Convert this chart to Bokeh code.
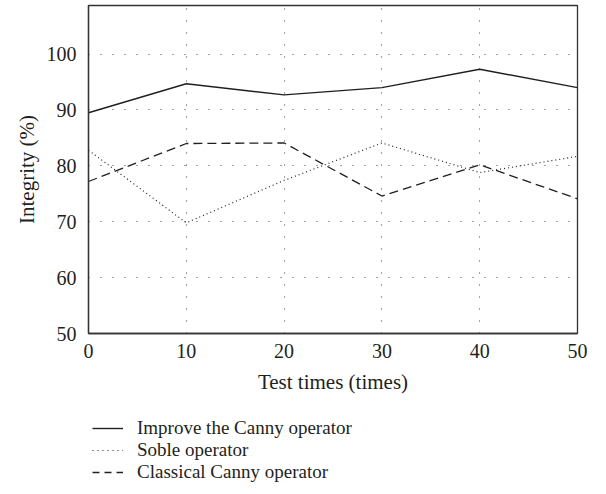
from bokeh.plotting import figure
from bokeh.models import Legend, LegendItem, Range1d, FixedTicker
from bokeh.layouts import column
from bokeh.embed import file_html
from bokeh.resources import INLINE

test_times = [0, 10, 20, 30, 40, 50]
improve_canny = [89.5, 94.7, 92.7, 94.0, 97.3, 94.0]
soble = [82.8, 69.8, 77.4, 84.1, 78.8, 81.7]
classical_canny = [77.2, 84.0, 84.1, 74.6, 80.2, 74.1]
x_ticks = [0, 10, 20, 30, 40, 50]
y_ticks = [50, 60, 70, 80, 90, 100]
series_labels = ["Improve the Canny operator", "Soble operator", "Classical Canny operator"]
series_values = [improve_canny, soble, classical_canny]

FONT = "Liberation Serif"
INK = "#231f20"

p = figure(width=597, height=397, output_backend="svg", toolbar_location=None,
           x_range=Range1d(0, 50), y_range=Range1d(50, 108.7),
           min_border_left=88, min_border_right=20, min_border_top=5,
           min_border_bottom=64)
p.outline_line_color = "#333333"
p.outline_line_width = 1.3
p.background_fill_color = "white"
p.border_fill_color = "white"

for ax in (p.xaxis[0], p.yaxis[0]):
    ax.major_tick_line_color = None
    ax.minor_tick_line_color = None
    ax.axis_line_color = "#333333"
    ax.axis_line_width = 1.3
    ax.major_label_text_font = FONT
    ax.major_label_text_font_size = "20px"
    ax.major_label_text_color = INK
    ax.axis_label_text_font = FONT
    ax.axis_label_text_font_size = "21px"
    ax.axis_label_text_font_style = "normal"
    ax.axis_label_text_color = INK

p.xaxis.ticker = FixedTicker(ticks=x_ticks)
p.yaxis.ticker = FixedTicker(ticks=y_ticks)
p.xaxis.axis_label = "Test times (times)"
p.yaxis.axis_label = "Integrity (%)"
p.xaxis.major_label_standoff = 4
p.yaxis.major_label_standoff = 6
p.xaxis.axis_label_standoff = 9
p.yaxis.axis_label_standoff = 5

for g in (p.xgrid[0], p.ygrid[0]):
    g.grid_line_color = "#444444"
    g.grid_line_dash = "1 11"
    g.grid_line_width = 1

styles = [dict(line_width=1.4),
          dict(line_width=1.2, line_dash="1 3"),
          dict(line_width=1.3, line_dash="9 5")]

for ys, st in zip(series_values, styles):
    p.line(test_times, ys, line_color=INK, **st)

# legend panel below the chart (its own small figure)
LEG_H = 96
p2 = figure(width=597, height=LEG_H, output_backend="svg", toolbar_location=None,
            x_range=Range1d(0, 1), y_range=Range1d(0, 1),
            x_axis_type=None, y_axis_type=None,
            min_border_left=88, min_border_right=20, min_border_top=0, min_border_bottom=0)
p2.outline_line_color = None
p2.grid.visible = False
p2.background_fill_alpha = 0
p2.border_fill_alpha = 0

legend_styles = [dict(line_width=1.4),
                 dict(line_width=1.2, line_dash="1 4"),
                 dict(line_width=1.3, line_dash="7 5")]

row_offsets = [54, 32, 10]
for lab, ys, st, yoff in zip(series_labels, series_values, legend_styles, row_offsets):
    # proxy renderer: same data, lies outside this empty panel's view
    r = p2.line(test_times, ys, line_color=INK, **st)
    lg = Legend(items=[LegendItem(label=lab, renderers=[r])], location=(4, yoff),
                orientation="vertical")
    lg.label_text_font = FONT
    lg.label_text_font_size = "19px"
    lg.label_text_color = INK
    lg.glyph_width = 31
    lg.glyph_height = 22
    lg.label_height = 22
    lg.spacing = 0
    lg.label_standoff = 14
    lg.padding = 0
    lg.margin = 0
    lg.border_line_alpha = 0
    lg.background_fill_alpha = 0
    p2.add_layout(lg)

open("out.html", "w").write(file_html(column(p, p2, spacing=0), INLINE))
